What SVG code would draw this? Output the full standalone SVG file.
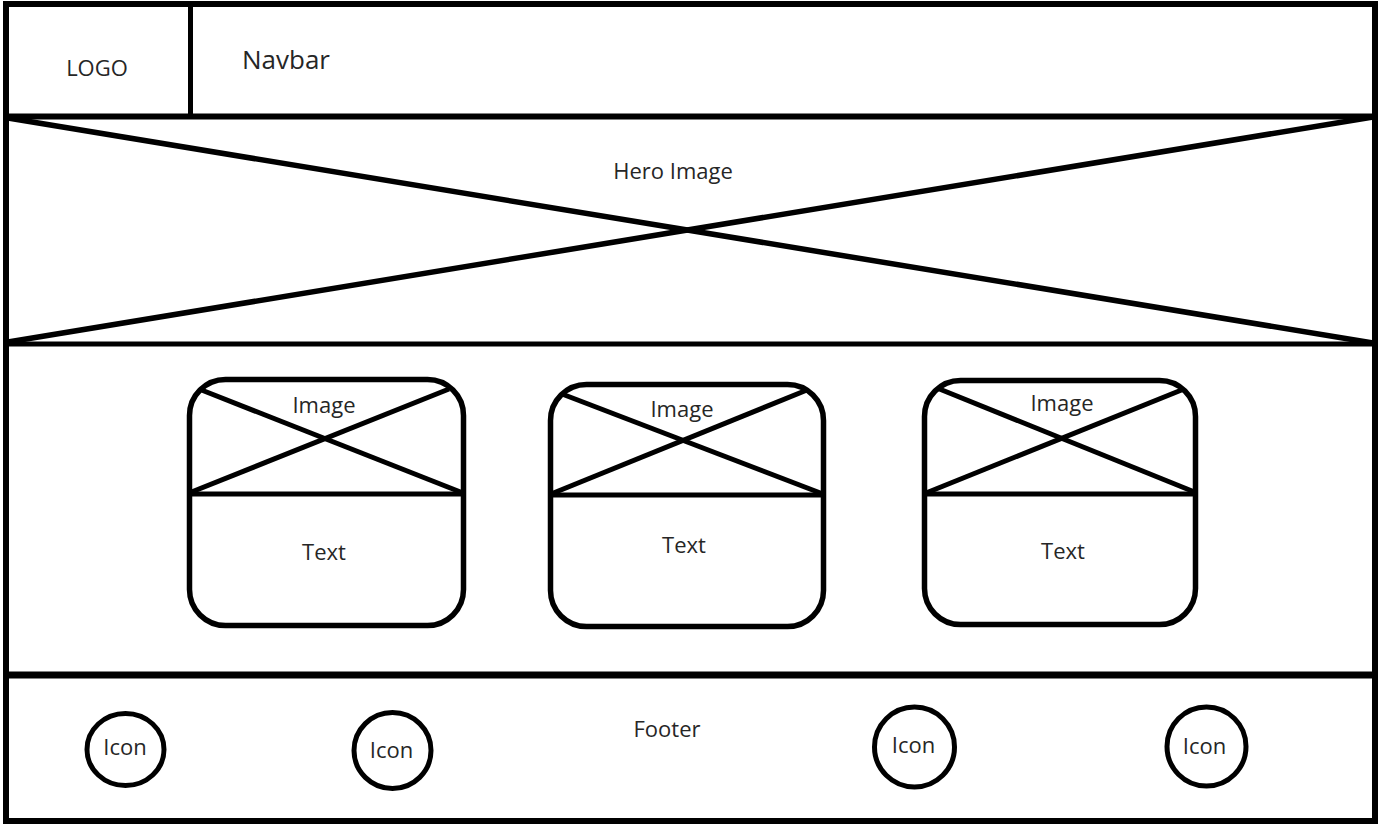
<svg xmlns="http://www.w3.org/2000/svg" width="1378" height="824" viewBox="0 0 1378 824">
<style>
.ln{stroke:#000;fill:none;stroke-linecap:butt}
.t{font-family:"Open Sans","Noto Sans","Liberation Sans",sans-serif;font-size:22px;fill:#262626;text-anchor:middle}
.card{stroke:#000;stroke-width:5.5;fill:none}
.ic{stroke:#000;stroke-width:5;fill:none}
</style>
<rect width="1378" height="824" fill="#fff"/>
<g id="frame">
<rect class="ln" x="6" y="4" width="1369" height="817" stroke-width="6"/>
</g>
<g id="navbar">
<line class="ln" x1="3" y1="116.5" x2="1377" y2="116.5" stroke-width="6"/>
<line class="ln" x1="190.5" y1="4" x2="190.5" y2="116" stroke-width="5"/>
<text class="t" x="97" y="76" font-size="21">LOGO</text>
<text class="t" x="242" y="69" style="text-anchor:start;font-size:26px">Navbar</text>
</g>
<g id="hero">
<line class="ln" x1="3" y1="344" x2="1377" y2="344" stroke-width="5"/>
<line class="ln" x1="8" y1="118" x2="1373" y2="343" stroke-width="5.5"/>
<line class="ln" x1="8" y1="342" x2="1373" y2="117" stroke-width="5.5"/>
<text class="t" x="673" y="179">Hero Image</text>
</g>
<g id="card1">
<rect class="card" x="189.5" y="379.5" width="274" height="246" rx="36" ry="36"/>
<line class="ln" x1="187" y1="494" x2="466" y2="494" stroke-width="5"/>
<line class="ln" x1="199" y1="389" x2="463" y2="493" stroke-width="5"/>
<line class="ln" x1="189" y1="493" x2="449" y2="389" stroke-width="5"/>
<text class="t" x="324" y="413">Image</text>
<text class="t" x="324" y="560">Text</text>
</g>
<g id="card2">
<rect class="card" x="550.5" y="384.5" width="273" height="242" rx="36" ry="36"/>
<line class="ln" x1="548" y1="495" x2="826" y2="495" stroke-width="5"/>
<line class="ln" x1="562" y1="394" x2="823" y2="494" stroke-width="5"/>
<line class="ln" x1="551" y1="494" x2="807" y2="390" stroke-width="5"/>
<text class="t" x="682" y="417">Image</text>
<text class="t" x="684" y="553">Text</text>
</g>
<g id="card3">
<rect class="card" x="924.5" y="380.5" width="271" height="244" rx="36" ry="36"/>
<line class="ln" x1="922" y1="494" x2="1198" y2="494" stroke-width="5"/>
<line class="ln" x1="937" y1="388" x2="1197" y2="493" stroke-width="5"/>
<line class="ln" x1="926" y1="493" x2="1184" y2="389" stroke-width="5"/>
<text class="t" x="1062" y="411">Image</text>
<text class="t" x="1063" y="559">Text</text>
</g>
<g id="footer">
<line class="ln" x1="3" y1="675" x2="1377" y2="675" stroke-width="7"/>
<text class="t" x="667" y="737">Footer</text>
</g>
<g id="icon1">
<ellipse class="ic" cx="125.5" cy="749.5" rx="38.5" ry="36"/>
<text class="t" x="125" y="755">Icon</text>
</g>
<g id="icon2">
<ellipse class="ic" cx="392.5" cy="750.5" rx="38.5" ry="38"/>
<text class="t" x="391.5" y="758">Icon</text>
</g>
<g id="icon3">
<ellipse class="ic" cx="914.5" cy="747" rx="40" ry="40"/>
<text class="t" x="913.5" y="753">Icon</text>
</g>
<g id="icon4">
<ellipse class="ic" cx="1206.5" cy="746.5" rx="39.5" ry="39.5"/>
<text class="t" x="1204.5" y="754">Icon</text>
</g>
<g id="connectors"></g>
</svg>
